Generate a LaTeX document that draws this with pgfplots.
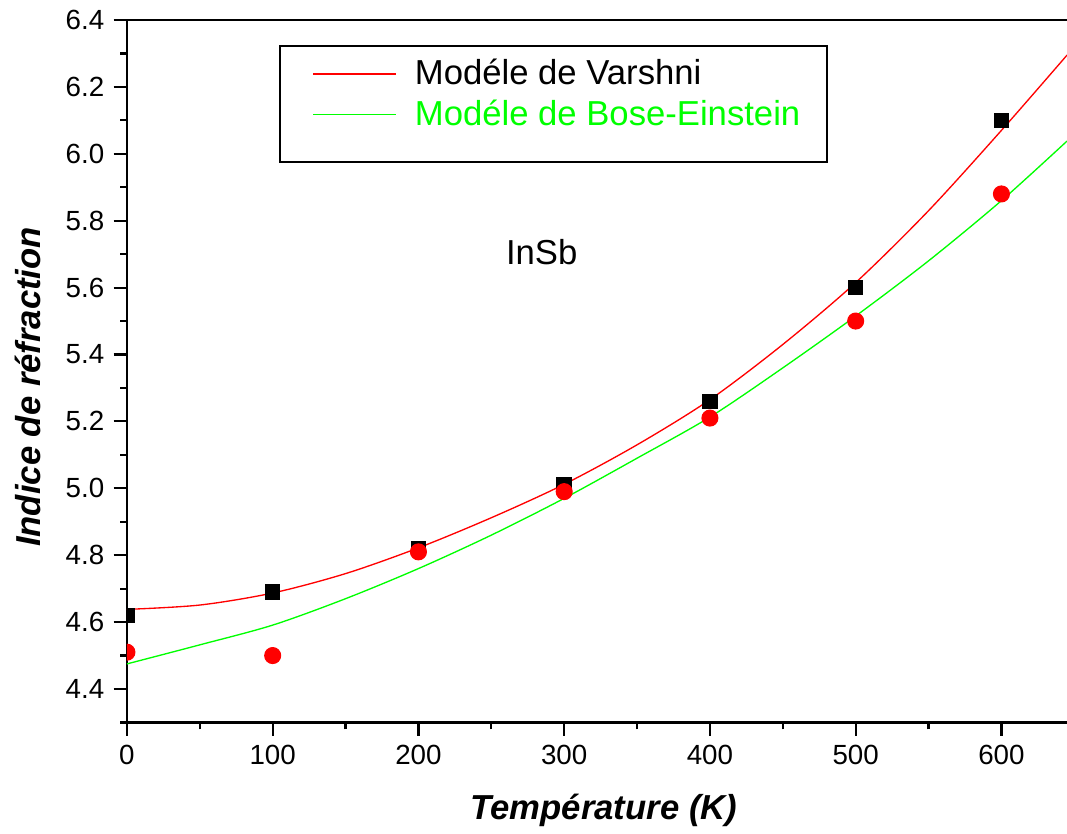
\documentclass[border=0pt]{standalone}
\usepackage{fontspec}
\setmainfont{Liberation Sans}
\usepackage{pgfplots}
\pgfplotsset{compat=1.18}

\definecolor{vred}{HTML}{FF0000}
\definecolor{vgreen}{HTML}{00FF00}

\begin{document}
\begin{tikzpicture}
\begin{axis}[
  width=352.5pt, height=263.4pt, scale only axis,
  xmin=0, xmax=645, ymin=4.3, ymax=6.4,
  axis x line*=bottom, axis y line*=left,
  axis line style={line width=1pt, black},
  xtick={0,100,200,300,400,500,600},
  minor xtick={50,150,250,350,450,550},
  ytick={4.4,4.6,4.8,5.0,5.2,5.4,5.6,5.8,6.0,6.2,6.4},
  minor ytick={4.3,4.5,4.7,4.9,5.1,5.3,5.5,5.7,5.9,6.1,6.3},
  tick align=outside,
  major tick length=5pt, minor tick length=2.6pt,
  every tick/.style={line width=0.8pt, black},
  yticklabel style={/pgf/number format/fixed, /pgf/number format/fixed zerofill, /pgf/number format/precision=1},
  /pgf/number format/assume math mode=true,
  tick label style={font=\fontsize{10.4}{12}\selectfont},
  xlabel={\textbf{\textit{Température (K)}}},
  ylabel={\textbf{\textit{Indice de réfraction}}},
  label style={font=\fontsize{13}{15}\selectfont},
  xlabel style={at={(axis description cs:0.5074,-0.1246)}, anchor=center},
  ylabel style={at={(axis description cs:-0.1053,0.4776)}, anchor=center},
  clip marker paths=true,
  legend style={at={(0.1617,0.9644)}, anchor=north west, draw=black, line width=0.75pt,
    font=\fontsize{13}{15}\selectfont, inner xsep=8pt, inner ysep=3pt},
  legend cell align=left,
  legend image code/.code={\path[draw=none] (0pt,0pt) rectangle (40.6pt,0pt); \draw[#1, line width=0.5pt] (4.4pt,0pt) -- (35.4pt,0pt);},
]
% Varshni model curve
\addplot[vred, line width=0.5pt, smooth] coordinates {
  (0,4.638) (50,4.651) (100,4.687) (150,4.745) (200,4.822) (250,4.912)
  (300,5.012) (350,5.130) (400,5.265) (450,5.430) (500,5.615) (550,5.830)
  (600,6.070) (645,6.295)};
\addlegendentry{Modéle de Varshni}
% Bose-Einstein model curve
\addplot[vgreen, line width=0.5pt, smooth] coordinates {
  (0,4.475) (50,4.532) (100,4.591) (150,4.670) (200,4.760) (250,4.860)
  (300,4.970) (350,5.090) (400,5.213) (450,5.360) (500,5.515) (550,5.680)
  (600,5.860) (645,6.038)};
\addlegendentry{\textcolor{vgreen}{Modéle de Bose-Einstein}}
\addlegendimage{empty legend}
\addlegendentry{\rule{0pt}{1.9pt}}
% measured points
\addplot[only marks, mark=square*, mark size=2.7pt, black, forget plot] coordinates {
  (0,4.62) (100,4.69) (200,4.82) (300,5.01) (400,5.26) (500,5.60) (600,6.10)};
\addplot[only marks, mark=*, mark size=3pt, vred, forget plot] coordinates {
  (0,4.51) (100,4.50) (200,4.81) (300,4.99) (400,5.21) (500,5.50) (600,5.88)};
\node[font=\fontsize{13}{15}\selectfont] at (axis cs:284.6,5.706) {InSb};
\end{axis}
\draw[line width=0.4pt] (current axis.north west) -- (current axis.north east);
\pgfresetboundingbox
\path ([xshift=-47.6pt,yshift=-41.8pt]current axis.south west) rectangle ([yshift=7.5pt]current axis.north east);
\end{tikzpicture}
\end{document}
